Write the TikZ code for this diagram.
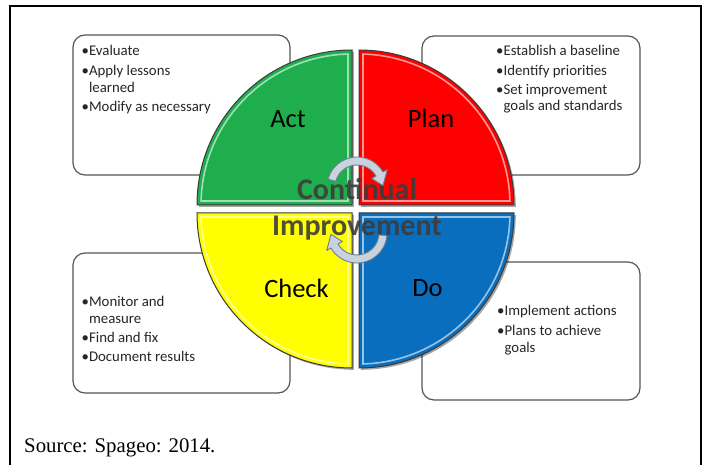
\documentclass[tikz,border=0pt]{standalone}
\usepackage{fontspec}
\setmainfont{Carlito}
\newfontfamily\srcfont{Liberation Serif}
\definecolor{actgreen}{HTML}{1EAE4E}
\definecolor{planred}{HTML}{FF0000}
\definecolor{checkyellow}{HTML}{FFFF00}
\definecolor{doblue}{HTML}{0A6EBE}
\definecolor{outl}{HTML}{3A3A3A}
\definecolor{boxline}{HTML}{555555}
\definecolor{arrfill}{HTML}{C8D3DF}
\definecolor{arrline}{HTML}{6E7D8C}
\definecolor{cigray}{HTML}{3C3C3C}
\tikzset{
  infobox/.style={draw=boxline, line width=1.2pt, rounded corners=12pt, fill=white, inner sep=0pt},
  bullettext/.style={anchor=base west, inner sep=0pt, font=\fontsize{14.8}{16.6}\selectfont, text=black!85},
  quadlabel/.style={anchor=base, inner sep=0pt, font=\fontsize{26.5}{30}\selectfont},
  cilabel/.style={anchor=base, inner sep=0pt, font=\bfseries\fontsize{30}{34}\selectfont, text=cigray, text opacity=0.9},
  cyclearrow/.style={fill=arrfill, draw=arrline, line width=0.9pt, line join=round},
  frameline/.style={draw=black, line width=2pt}
}
\newcommand{\quadshape}[3]{% color, corner, rotation
  \begin{scope}[shift={#2}, xshift=1.8pt, yshift=-1.8pt, rotate=#3]
    \fill[black, opacity=0.35] (0,0) -- (155,0) arc[start angle=0, end angle=90, radius=155] -- cycle;
  \end{scope}
  \begin{scope}[shift={#2}, rotate=#3]
    \fill[#1] (0,0) -- (155,0) arc[start angle=0, end angle=90, radius=155] -- cycle;
    \draw[#1!35!white, line width=1.6pt, opacity=0.9] (4,4) -- (150.95,4) arc[start angle=1.52, end angle=88.48, radius=151] -- cycle;
    \draw[outl, line width=1pt] (0,0) -- (155,0) arc[start angle=0, end angle=90, radius=155] -- cycle;
  \end{scope}
}
\begin{document}
\begin{tikzpicture}[x=1pt, y=1pt]
\useasboundingbox (0,0) rectangle (705,-465);
\fill[white] (0,0) rectangle (705,-465);
% outer frame
\draw[frameline] (10,-466) -- (10,-6) -- (701,-6) -- (701,-466);

% info boxes
\node[infobox, minimum width=217pt, minimum height=140pt] (actbox) at (181.5,-105) {};
\node[infobox, minimum width=218pt, minimum height=139pt] (planbox) at (531,-105.5) {};
\node[infobox, minimum width=217pt, minimum height=140pt] (checkbox) at (181.5,-323) {};
\node[infobox, minimum width=218pt, minimum height=138pt] (dobox) at (531,-331) {};

% box texts
\node[bullettext] (acttext) at (81.5,-56) {\begin{tabular}[t]{@{}l@{}}•Evaluate\\[3pt] •Apply lessons\\ \hphantom{•}learned\\[3pt] •Modify as necessary\end{tabular}};
\node[bullettext] (plantext) at (496,-56) {\begin{tabular}[t]{@{}l@{}}•Establish a baseline\\[2.5pt] •Identify priorities\\[2.5pt] •Set improvement\\ \hphantom{•}goals and standards\end{tabular}};
\node[bullettext] (checktext) at (81.5,-307) {\begin{tabular}[t]{@{}l@{}}•Monitor and\\ \hphantom{•}measure\\[2.5pt] •Find and fix\\[2.5pt] •Document results\end{tabular}};
\node[bullettext] (dotext) at (497,-316) {\begin{tabular}[t]{@{}l@{}}•Implement actions\\[3pt] •Plans to achieve\\ \hphantom{•}goals\end{tabular}};

% quadrants
\quadshape{actgreen}{(352,-205)}{90}
\quadshape{planred}{(359,-205)}{0}
\quadshape{checkyellow}{(352,-213)}{180}
\quadshape{doblue}{(359,-213)}{-90}

% quadrant labels
\node[quadlabel] (act) at (288,-128) {Act};
\node[quadlabel] (plan) at (431,-128) {Plan};
\node[quadlabel] (check) at (296.5,-298) {Check};
\node[quadlabel] (do) at (427.5,-297) {Do};

% central text
\node[cilabel] (cont) at (357,-200) {Continual};
\node[cilabel] (impr) at (357,-236) {Improvement};

% cycle arrows
\begin{scope}[shift={(357,-187)}]
  \draw[cyclearrow] (165:30) arc[start angle=165, end angle=30, radius=30] -- (30:35) -- (3:26) -- (30:17) -- (30:22) arc[start angle=30, end angle=165, radius=22] -- cycle;
\end{scope}
\begin{scope}[shift={(357,-233)}]
  \draw[cyclearrow] (-5:30) arc[start angle=-5, end angle=-150, radius=30] -- (-150:35) -- (-177:26) -- (-150:17) -- (-150:22) arc[start angle=-150, end angle=-5, radius=22] -- cycle;
\end{scope}

% source
\node[anchor=base west, inner sep=0pt, font=\srcfont\fontsize{20.8}{24}\selectfont] (source) at (24,-452) {Source: Spageo: 2014.};
\end{tikzpicture}
\end{document}
